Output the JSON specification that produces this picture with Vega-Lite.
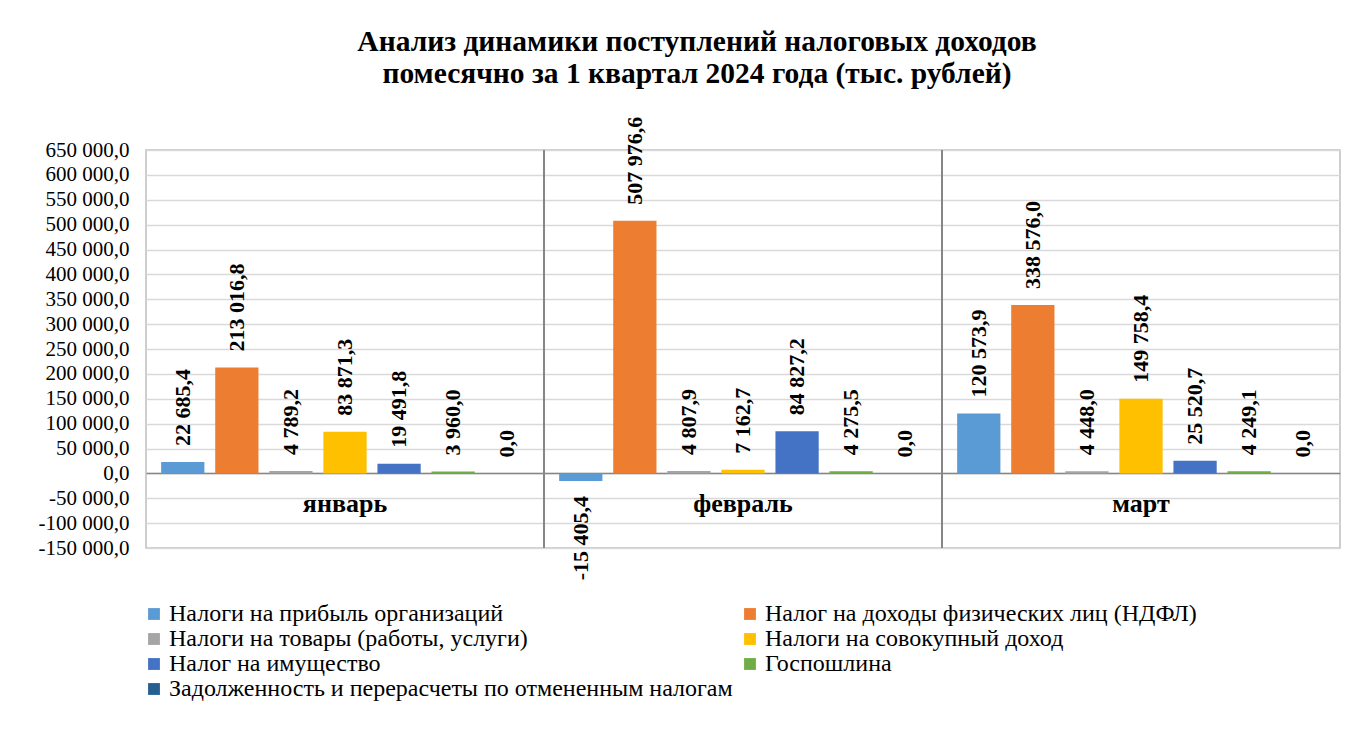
{
  "$schema": "https://vega.github.io/schema/vega-lite/v6.json",
  "autosize": {"type": "none"},
  "width": 1194,
  "height": 398,
  "padding": {"left": 146, "top": 150, "right": 20, "bottom": 203},
  "background": "white",
  "config": {
    "locale": {"number": {"decimal": ",", "thousands": " ", "grouping": [3], "currency": ["", ""], "minus": "-"}},
    "font": "Liberation Serif",
    "view": {"stroke": "#BFBFBF", "strokeWidth": 1.5}
  },
  "title": {
    "text": ["Анализ динамики поступлений налоговых доходов", "помесячно за 1 квартал 2024 года (тыс. рублей)"],
    "font": "Liberation Serif",
    "fontSize": 29.5,
    "fontWeight": "bold",
    "color": "#000000",
    "anchor": "middle",
    "lineHeight": 32,
    "offset": 27,
    "dx": -46
  },
  "data": {
    "values": [
      {"month": "январь", "series": "Налоги на прибыль организаций", "value": 22685.4},
      {"month": "январь", "series": "Налог на доходы физических лиц (НДФЛ)", "value": 213016.8},
      {"month": "январь", "series": "Налоги на товары (работы, услуги)", "value": 4789.2},
      {"month": "январь", "series": "Налоги на совокупный доход", "value": 83871.3},
      {"month": "январь", "series": "Налог на имущество", "value": 19491.8},
      {"month": "январь", "series": "Госпошлина", "value": 3960.0},
      {"month": "январь", "series": "Задолженность и перерасчеты по отмененным налогам", "value": 0.0},
      {"month": "февраль", "series": "Налоги на прибыль организаций", "value": -15405.4},
      {"month": "февраль", "series": "Налог на доходы физических лиц (НДФЛ)", "value": 507976.6},
      {"month": "февраль", "series": "Налоги на товары (работы, услуги)", "value": 4807.9},
      {"month": "февраль", "series": "Налоги на совокупный доход", "value": 7162.7},
      {"month": "февраль", "series": "Налог на имущество", "value": 84827.2},
      {"month": "февраль", "series": "Госпошлина", "value": 4275.5},
      {"month": "февраль", "series": "Задолженность и перерасчеты по отмененным налогам", "value": 0.0},
      {"month": "март", "series": "Налоги на прибыль организаций", "value": 120573.9},
      {"month": "март", "series": "Налог на доходы физических лиц (НДФЛ)", "value": 338576.0},
      {"month": "март", "series": "Налоги на товары (работы, услуги)", "value": 4448.0},
      {"month": "март", "series": "Налоги на совокупный доход", "value": 149758.4},
      {"month": "март", "series": "Налог на имущество", "value": 25520.7},
      {"month": "март", "series": "Госпошлина", "value": 4249.1},
      {"month": "март", "series": "Задолженность и перерасчеты по отмененным налогам", "value": 0.0}
    ]
  },
  "encoding": {
    "x": {
      "field": "month",
      "type": "nominal",
      "sort": ["январь", "февраль", "март"],
      "scale": {"paddingInner": 0, "paddingOuter": 0},
      "axis": {
        "title": null,
        "orient": "bottom",
        "offset": -75,
        "ticks": false,
        "grid": false,
        "domainColor": "#868686",
        "domainWidth": 1.5,
        "labelAngle": 0,
        "labelFont": "Liberation Serif",
        "labelFontSize": 26,
        "labelFontWeight": "bold",
        "labelColor": "#000000",
        "labelPadding": 17
      }
    },
    "xOffset": {
      "field": "series",
      "type": "nominal",
      "sort": ["Налоги на прибыль организаций", "Налог на доходы физических лиц (НДФЛ)", "Налоги на товары (работы, услуги)", "Налоги на совокупный доход", "Налог на имущество", "Госпошлина", "Задолженность и перерасчеты по отмененным налогам"],
      "scale": {"paddingInner": 0.2, "paddingOuter": 0.28}
    },
    "y": {
      "field": "value",
      "type": "quantitative",
      "scale": {"domain": [-150000, 650000], "nice": false, "zero": false},
      "axis": {
        "title": null,
        "values": [-150000, -100000, -50000, 0, 50000, 100000, 150000, 200000, 250000, 300000, 350000, 400000, 450000, 500000, 550000, 600000, 650000],
        "format": ",.1f",
        "ticks": false,
        "domain": false,
        "gridColor": "#D9D9D9",
        "gridWidth": 1.5,
        "labelFont": "Liberation Serif",
        "labelFontSize": 21,
        "labelColor": "#000000",
        "labelPadding": 17
      }
    }
  },
  "layer": [
    {
      "mark": {"type": "bar"},
      "encoding": {
        "color": {
          "field": "series",
          "type": "nominal",
          "sort": ["Налоги на прибыль организаций", "Налог на доходы физических лиц (НДФЛ)", "Налоги на товары (работы, услуги)", "Налоги на совокупный доход", "Налог на имущество", "Госпошлина", "Задолженность и перерасчеты по отмененным налогам"],
          "scale": {
            "domain": ["Налоги на прибыль организаций", "Налог на доходы физических лиц (НДФЛ)", "Налоги на товары (работы, услуги)", "Налоги на совокупный доход", "Налог на имущество", "Госпошлина", "Задолженность и перерасчеты по отмененным налогам"],
            "range": ["#5B9BD5", "#ED7D31", "#A5A5A5", "#FFC000", "#4472C4", "#70AD47", "#255E91"]
          },
          "legend": {
            "title": null,
            "orient": "none",
            "legendX": -4,
            "legendY": 452,
            "direction": "horizontal",
            "columns": 2,
            "symbolType": "square",
            "symbolSize": 140,
            "symbolStrokeWidth": 0,
            "labelFont": "Liberation Serif",
            "labelFontSize": 24,
            "labelColor": "#000000",
            "labelLimit": 800,
            "labelOffset": 3,
            "rowPadding": 1,
            "columnPadding": 5
          }
        }
      }
    },
    {
      "transform": [{"filter": "datum.value >= 0"}],
      "mark": {"type": "text", "angle": 270, "align": "left", "baseline": "middle", "dx": 16, "font": "Liberation Serif", "fontSize": 22, "fontWeight": "bold", "color": "#000000"},
      "encoding": {"text": {"field": "value", "type": "quantitative", "format": ",.1f"}}
    },
    {
      "transform": [{"filter": "datum.value < 0"}],
      "mark": {"type": "text", "angle": 270, "align": "right", "baseline": "middle", "dx": -15, "font": "Liberation Serif", "fontSize": 22, "fontWeight": "bold", "color": "#000000"},
      "encoding": {"text": {"field": "value", "type": "quantitative", "format": ",.1f"}}
    },
    {
      "transform": [{"filter": "datum.month !== 'январь'"}],
      "mark": {"type": "rule", "color": "#868686", "strokeWidth": 1.5},
      "encoding": {
        "x": {"field": "month", "type": "nominal", "sort": ["январь", "февраль", "март"], "bandPosition": 0},
        "xOffset": null,
        "y": null
      }
    }
  ]
}
